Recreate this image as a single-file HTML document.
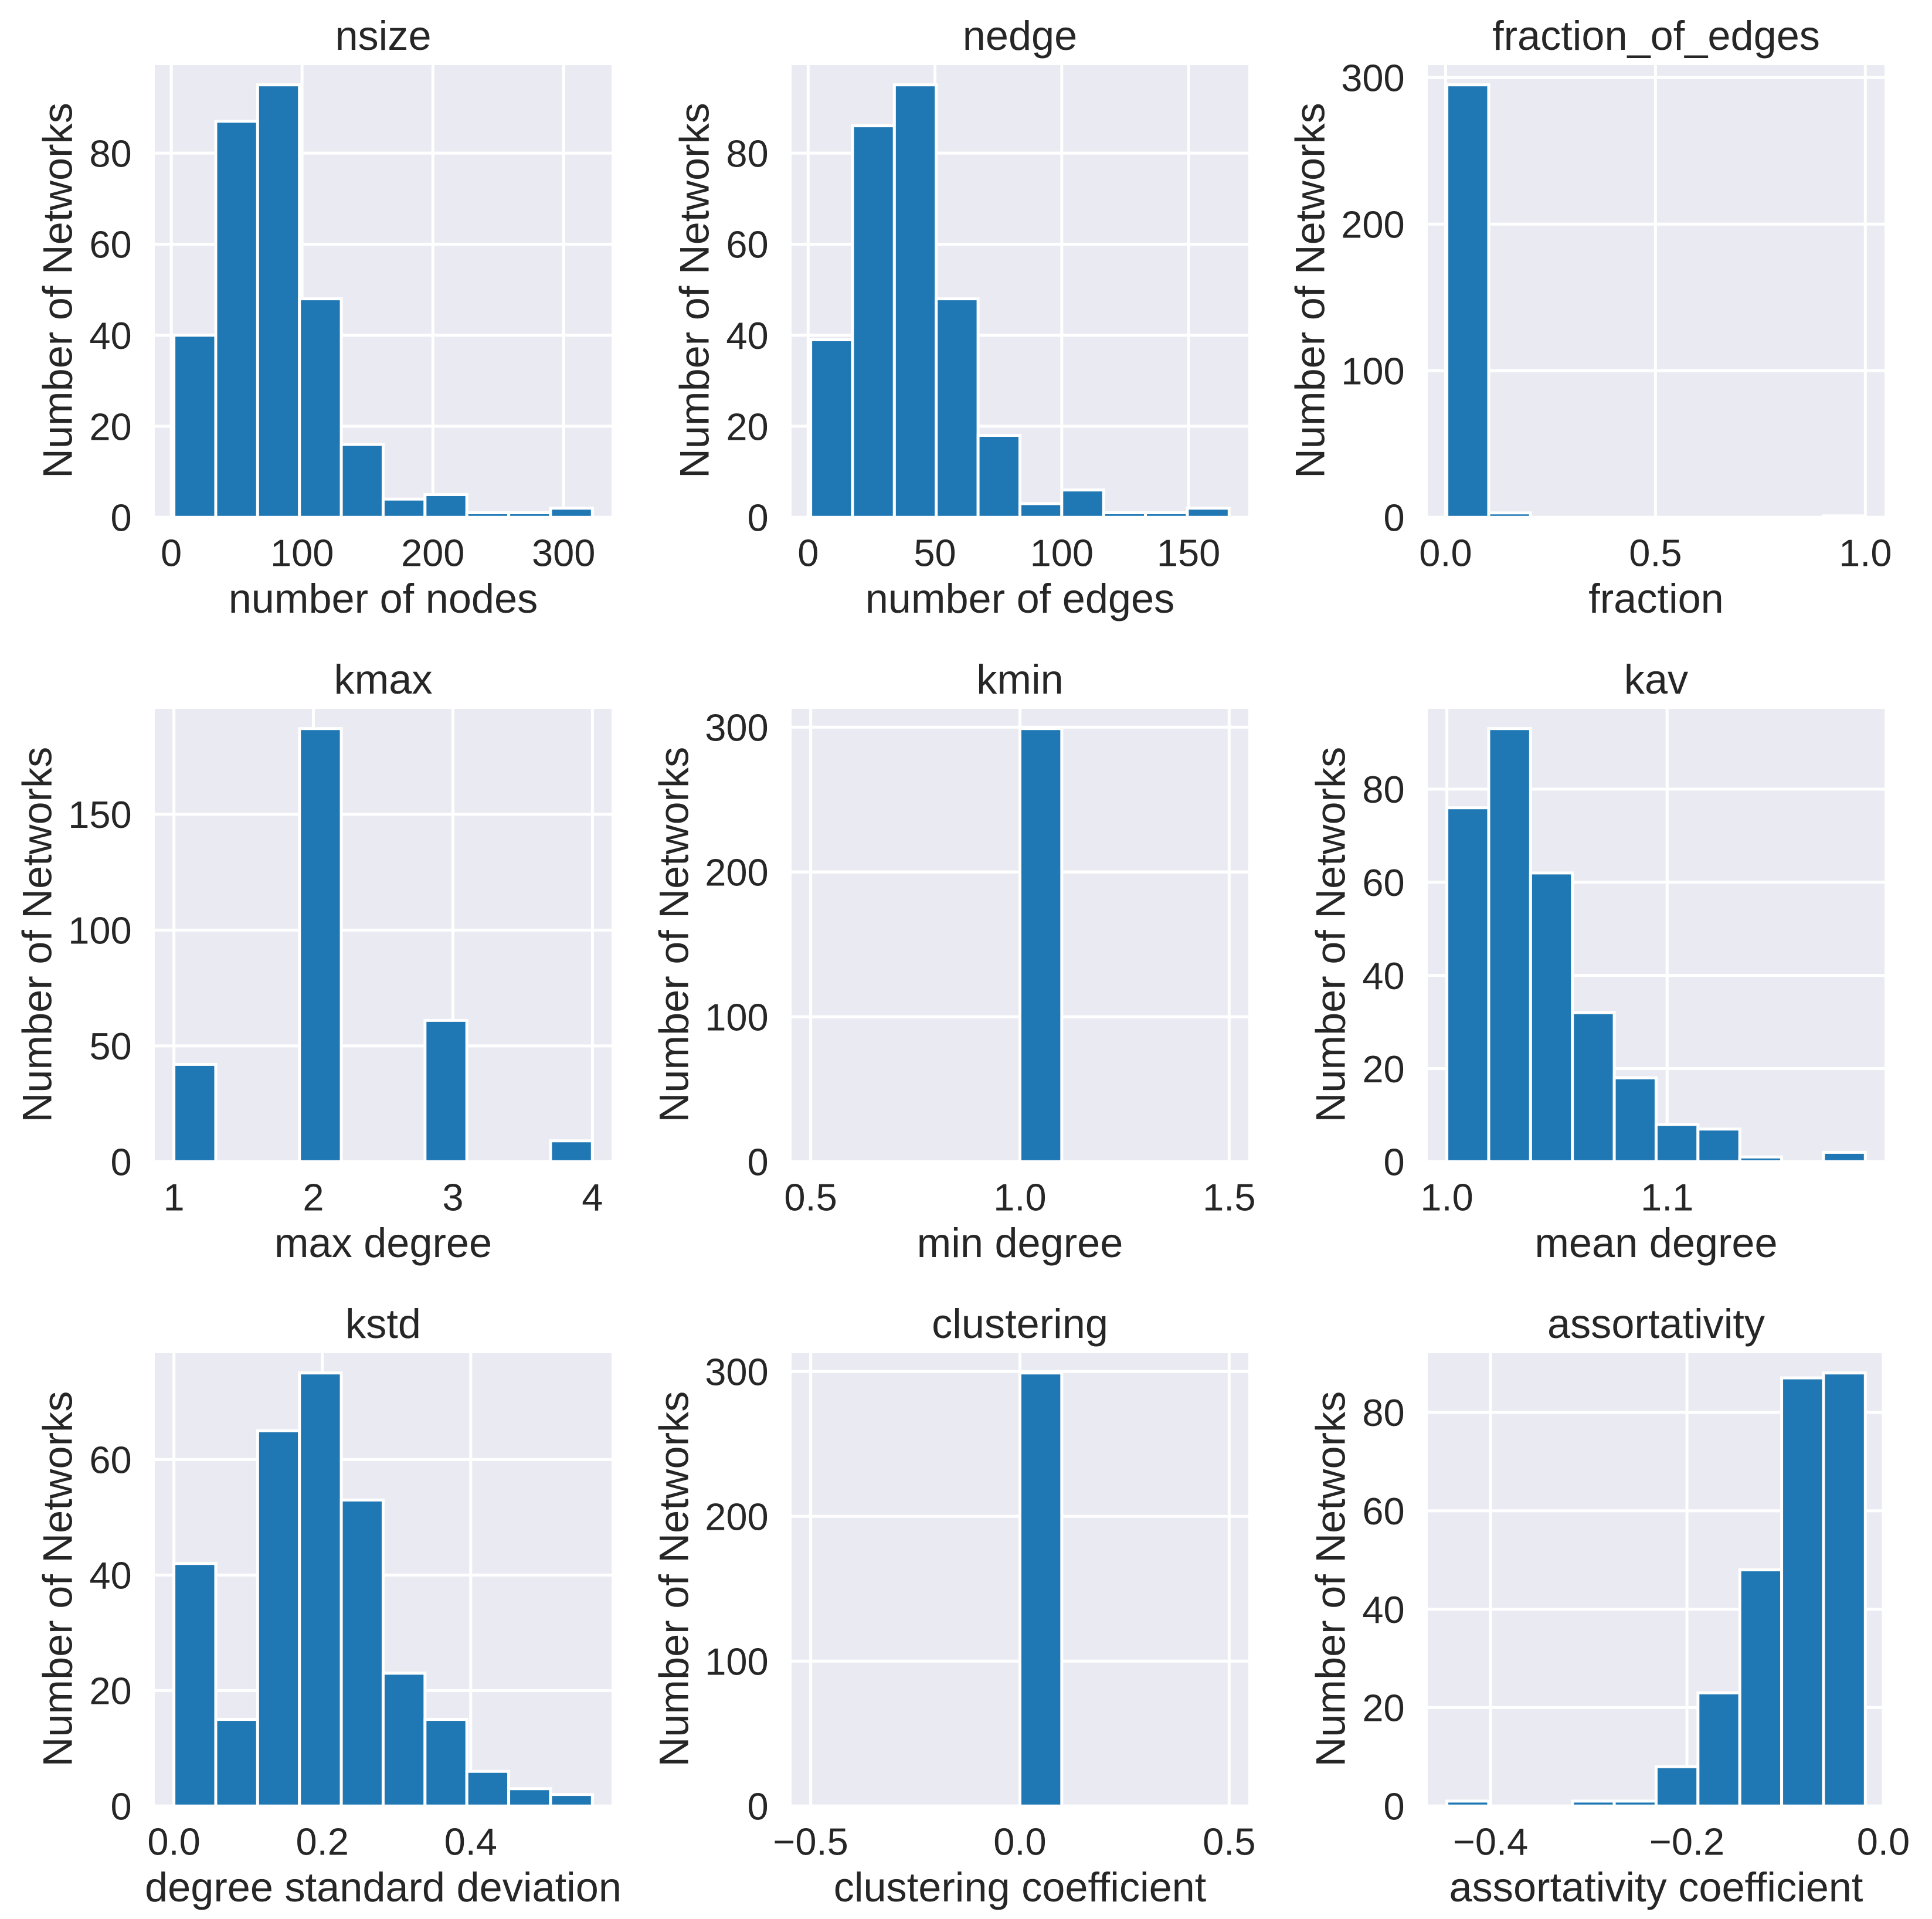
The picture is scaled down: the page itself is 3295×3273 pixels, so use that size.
<!DOCTYPE html>
<html lang="en">
<head>
<meta charset="utf-8">
<title>Network statistics histograms</title>
<style>
  html, body { margin: 0; padding: 0; background: #ffffff; }
  svg { display: block; }
  text { font-family: "Liberation Sans", Arial, sans-serif; fill: #262626; }
</style>
</head>
<body>
<svg id="figure" xmlns="http://www.w3.org/2000/svg" width="3295" height="3273" viewBox="0 0 3295 3273"></svg>
<script>
const nsizeCounts = [40, 87, 95, 48, 16, 4, 5, 1, 1, 2];
const nsizeRange = [2, 322];
const nsizeXTicks = [0, 100, 200, 300];
const nsizeXLabels = ["0", "100", "200", "300"];
const nsizeYTicks = [0, 20, 40, 60, 80];

const nedgeCounts = [39, 86, 95, 48, 18, 3, 6, 1, 1, 2];
const nedgeRange = [1, 166];
const nedgeXTicks = [0, 50, 100, 150];
const nedgeXLabels = ["0", "50", "100", "150"];
const nedgeYTicks = [0, 20, 40, 60, 80];

const fractionCounts = [295, 3, 0, 0, 0, 0, 0, 0, 0, 1];
const fractionRange = [0.003, 1];
const fractionXTicks = [0, 0.5, 1];
const fractionXLabels = ["0.0", "0.5", "1.0"];
const fractionYTicks = [0, 100, 200, 300];

const kmaxCounts = [42, 0, 0, 187, 0, 0, 61, 0, 0, 9];
const kmaxRange = [1, 4];
const kmaxXTicks = [1, 2, 3, 4];
const kmaxXLabels = ["1", "2", "3", "4"];
const kmaxYTicks = [0, 50, 100, 150];

const kminCounts = [0, 0, 0, 0, 0, 299, 0, 0, 0, 0];
const kminRange = [0.5, 1.5];
const kminXTicks = [0.5, 1, 1.5];
const kminXLabels = ["0.5", "1.0", "1.5"];
const kminYTicks = [0, 100, 200, 300];

const kavCounts = [76, 93, 62, 32, 18, 8, 7, 1, 0, 2];
const kavRange = [1, 1.19];
const kavXTicks = [1, 1.1];
const kavXLabels = ["1.0", "1.1"];
const kavYTicks = [0, 20, 40, 60, 80];

const kstdCounts = [42, 15, 65, 75, 53, 23, 15, 6, 3, 2];
const kstdRange = [0, 0.564];
const kstdXTicks = [0, 0.2, 0.4];
const kstdXLabels = ["0.0", "0.2", "0.4"];
const kstdYTicks = [0, 20, 40, 60];

const clusteringCounts = [0, 0, 0, 0, 0, 299, 0, 0, 0, 0];
const clusteringRange = [-0.5, 0.5];
const clusteringXTicks = [-0.5, 0, 0.5];
const clusteringXLabels = ["\u22120.5", "0.0", "0.5"];
const clusteringYTicks = [0, 100, 200, 300];

const assortCounts = [1, 0, 0, 1, 1, 8, 23, 48, 87, 88];
const assortRange = [-0.4445, -0.0183];
const assortXTicks = [-0.4, -0.2, 0];
const assortXLabels = ["\u22120.4", "\u22120.2", "0.0"];
const assortYTicks = [0, 20, 40, 60, 80];

const svg = document.getElementById('figure');
const NS = 'http://www.w3.org/2000/svg';

const colLeft = [264, 1350, 2435];
const rowTop = [111, 1209, 2308];
const rowBottom = [880, 1979, 3078];
const AX_W = 779;
const LABEL_SIZE = 70.3;
const TICK_SIZE = 65;

function make(tag, attrs, parent) {
  const el = document.createElementNS(NS, tag);
  for (const k in attrs) el.setAttribute(k, attrs[k]);
  parent.appendChild(el);
  return el;
}

function drawPanel(slug, col, row, title, xLabel, counts, range, xTicks, xLabels, yTicks) {
  const left = colLeft[col];
  const top = rowTop[row];
  const bottom = rowBottom[row];

  const xPixA = left + 32.6;
  const xPixB = left + 746.3;
  const xScale = v => xPixA + (v - range[0]) / (range[1] - range[0]) * (xPixB - xPixA);

  const yPix0 = bottom + 2.3;
  const yPixMax = top + 33.7;
  const maxCount = Math.max.apply(null, counts);
  const yScale = v => yPix0 - v / maxCount * (yPix0 - yPixMax);

  const panel = make('g', {}, svg);
  
  

  const clipId = 'clip-' + slug;
  const defs = make('defs', {}, panel);
  const clip = make('clipPath', { id: clipId }, defs);
  make('rect', { x: left, y: top, width: AX_W, height: bottom - top }, clip);

  const bg = make('rect', { x: left, y: top, width: AX_W, height: bottom - top, fill: '#eaeaf2' }, panel);
  
  

  const plot = make('g', { 'clip-path': 'url(#' + clipId + ')' }, panel);

  xTicks.forEach(function (t) {
    const x = xScale(t);
    const line = make('line', { x1: x, x2: x, y1: top, y2: bottom, stroke: '#ffffff', 'stroke-width': 5 }, plot);
    
    
  });
  yTicks.forEach(function (t) {
    const y = yScale(t);
    const line = make('line', { x1: left, x2: left + AX_W, y1: y, y2: y, stroke: '#ffffff', 'stroke-width': 5 }, plot);
    
    
  });

  const n = counts.length;
  const binEdge = i => range[0] + i * (range[1] - range[0]) / n;
  counts.forEach(function (c, i) {
    const x0 = xScale(binEdge(i));
    const x1 = xScale(binEdge(i + 1));
    const y = yScale(c);
    const bar = make('rect', {
      x: x0, y: y, width: x1 - x0, height: Math.max(0, yScale(0) - y),
      fill: '#1f77b4', stroke: '#ffffff', 'stroke-width': 5
    }, plot);
    
    
  });

  const titleEl = make('text', { x: left + AX_W / 2, y: top - 26, 'font-size': LABEL_SIZE, 'text-anchor': 'middle' }, panel);
  titleEl.textContent = title;
  
  

  xTicks.forEach(function (t, i) {
    const label = make('text', { x: xScale(t), y: bottom + 85.5, 'font-size': TICK_SIZE, 'text-anchor': 'middle' }, panel);
    label.textContent = xLabels[i];
    
    
  });
  yTicks.forEach(function (t) {
    const label = make('text', { x: left - 39.3, y: yScale(t) + 23.3, 'font-size': TICK_SIZE, 'text-anchor': 'end' }, panel);
    label.textContent = String(t);
    
    
  });

  const xTitle = make('text', { x: left + AX_W / 2, y: bottom + 165, 'font-size': LABEL_SIZE, 'text-anchor': 'middle' }, panel);
  xTitle.textContent = xLabel;
  
  

  const widest = Math.max.apply(null, yTicks.map(t => String(t).length));
  const yx = left - (widest >= 3 ? 176.4 : 141.3);
  const yc = (top + bottom) / 2;
  const yTitle = make('text', {
    x: yx, y: yc, 'font-size': LABEL_SIZE, 'text-anchor': 'middle',
    transform: 'rotate(-90 ' + yx + ' ' + yc + ')'
  }, panel);
  yTitle.textContent = 'Number of Networks';
  
  
}

drawPanel('nsize', 0, 0, 'nsize', 'number of nodes', nsizeCounts, nsizeRange, nsizeXTicks, nsizeXLabels, nsizeYTicks);
drawPanel('nedge', 1, 0, 'nedge', 'number of edges', nedgeCounts, nedgeRange, nedgeXTicks, nedgeXLabels, nedgeYTicks);
drawPanel('fraction-of-edges', 2, 0, 'fraction_of_edges', 'fraction', fractionCounts, fractionRange, fractionXTicks, fractionXLabels, fractionYTicks);
drawPanel('kmax', 0, 1, 'kmax', 'max degree', kmaxCounts, kmaxRange, kmaxXTicks, kmaxXLabels, kmaxYTicks);
drawPanel('kmin', 1, 1, 'kmin', 'min degree', kminCounts, kminRange, kminXTicks, kminXLabels, kminYTicks);
drawPanel('kav', 2, 1, 'kav', 'mean degree', kavCounts, kavRange, kavXTicks, kavXLabels, kavYTicks);
drawPanel('kstd', 0, 2, 'kstd', 'degree standard deviation', kstdCounts, kstdRange, kstdXTicks, kstdXLabels, kstdYTicks);
drawPanel('clustering', 1, 2, 'clustering', 'clustering coefficient', clusteringCounts, clusteringRange, clusteringXTicks, clusteringXLabels, clusteringYTicks);
drawPanel('assortativity', 2, 2, 'assortativity', 'assortativity coefficient', assortCounts, assortRange, assortXTicks, assortXLabels, assortYTicks);
</script>
</body>
</html>
